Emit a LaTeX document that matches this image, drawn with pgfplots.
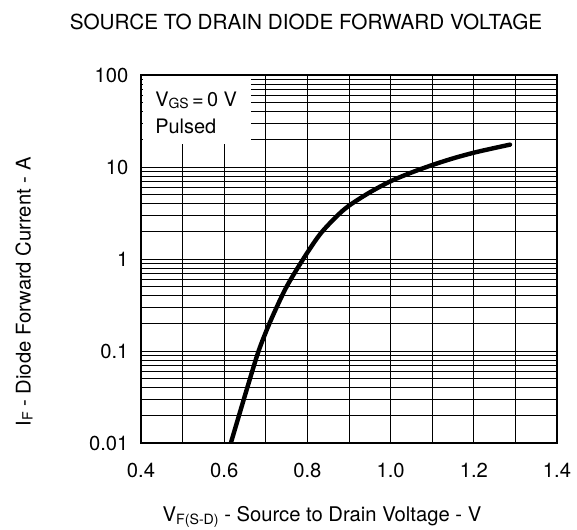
\documentclass[border=0pt]{standalone}
\usepackage{fontspec}
\setmainfont{TeX Gyre Heros}
\usepackage{pgfplots}
\pgfplotsset{compat=1.18}
\begin{document}
\begin{tikzpicture}[x=1bp,y=1bp]
\useasboundingbox (0,0) rectangle (577,530);
\begin{axis}[at={(141bp,87bp)}, anchor=south west, scale only axis,
  width=416bp, height=368bp,
  xmin=0.4, xmax=1.4, ymode=log, ymin=0.01, ymax=100,
  xtick={0.4,0.6,0.8,1.0,1.2,1.4}, xticklabels={0.4,0.6,0.8,1.0,1.2,1.4},
  minor xtick={0.5,0.7,0.9,1.1,1.3},
  ytick={0.01,0.1,1,10,100}, yticklabels={0.01,0.1,1,10,100},
  minor ytick={0.02,0.03,0.04,0.05,0.06,0.07,0.08,0.09,0.2,0.3,0.4,0.5,0.6,0.7,0.8,0.9,2,3,4,5,6,7,8,9,20,30,40,50,60,70,80,90},
  grid=both,
  major grid style={black, line width=0.7bp},
  minor grid style={black, line width=0.7bp},
  major tick length=0pt, minor tick length=0pt,
  axis line style={line width=2bp},
  /pgf/number format/assume math mode=true,
  ticklabel style={font=\fontsize{20.3}{23}\selectfont},
  xticklabel style={yshift=-17bp},
  yticklabel style={xshift=-9bp},
]
\fill[white] (axis cs:0.404,18) rectangle (axis cs:0.665,98);
\node[anchor=base west, font=\fontsize{20}{23}\selectfont] at (axis cs:0.426,44.9) {V\raisebox{-0.1em}{\fontsize{14}{14}\selectfont GS}\,=\,0 V};
\node[anchor=base west, font=\fontsize{20}{23}\selectfont] at (axis cs:0.426,23.4) {Pulsed};
\addplot[black, line width=4.4bp, smooth, line cap=round] coordinates {
(0.616,0.01) (0.65,0.033) (0.68,0.092) (0.70,0.16) (0.72,0.26) (0.75,0.50)
(0.79,1.0) (0.83,1.85) (0.87,2.9) (0.90,3.8) (0.95,5.3) (1.0,7.0)
(1.05,8.7) (1.10,10.5) (1.15,12.4) (1.2,14.3) (1.25,16.1) (1.287,17.5)
};
\end{axis}
\node[anchor=base, font=\fontsize{20.8}{24}\selectfont] at (306,500.6) {SOURCE TO DRAIN DIODE FORWARD VOLTAGE};
\node[anchor=base, font=\fontsize{20.3}{23}\selectfont] at (322,8) {V\raisebox{-0.1em}{\fontsize{14.2}{14}\selectfont F(S-D)} - Source to Drain Voltage - V};
\node[anchor=base, font=\fontsize{20.3}{23}\selectfont, rotate=90] at (30.7,238) {I\raisebox{-0.1em}{\fontsize{14.2}{14}\selectfont F} - Diode Forward Current - A};
\end{tikzpicture}
\end{document}
